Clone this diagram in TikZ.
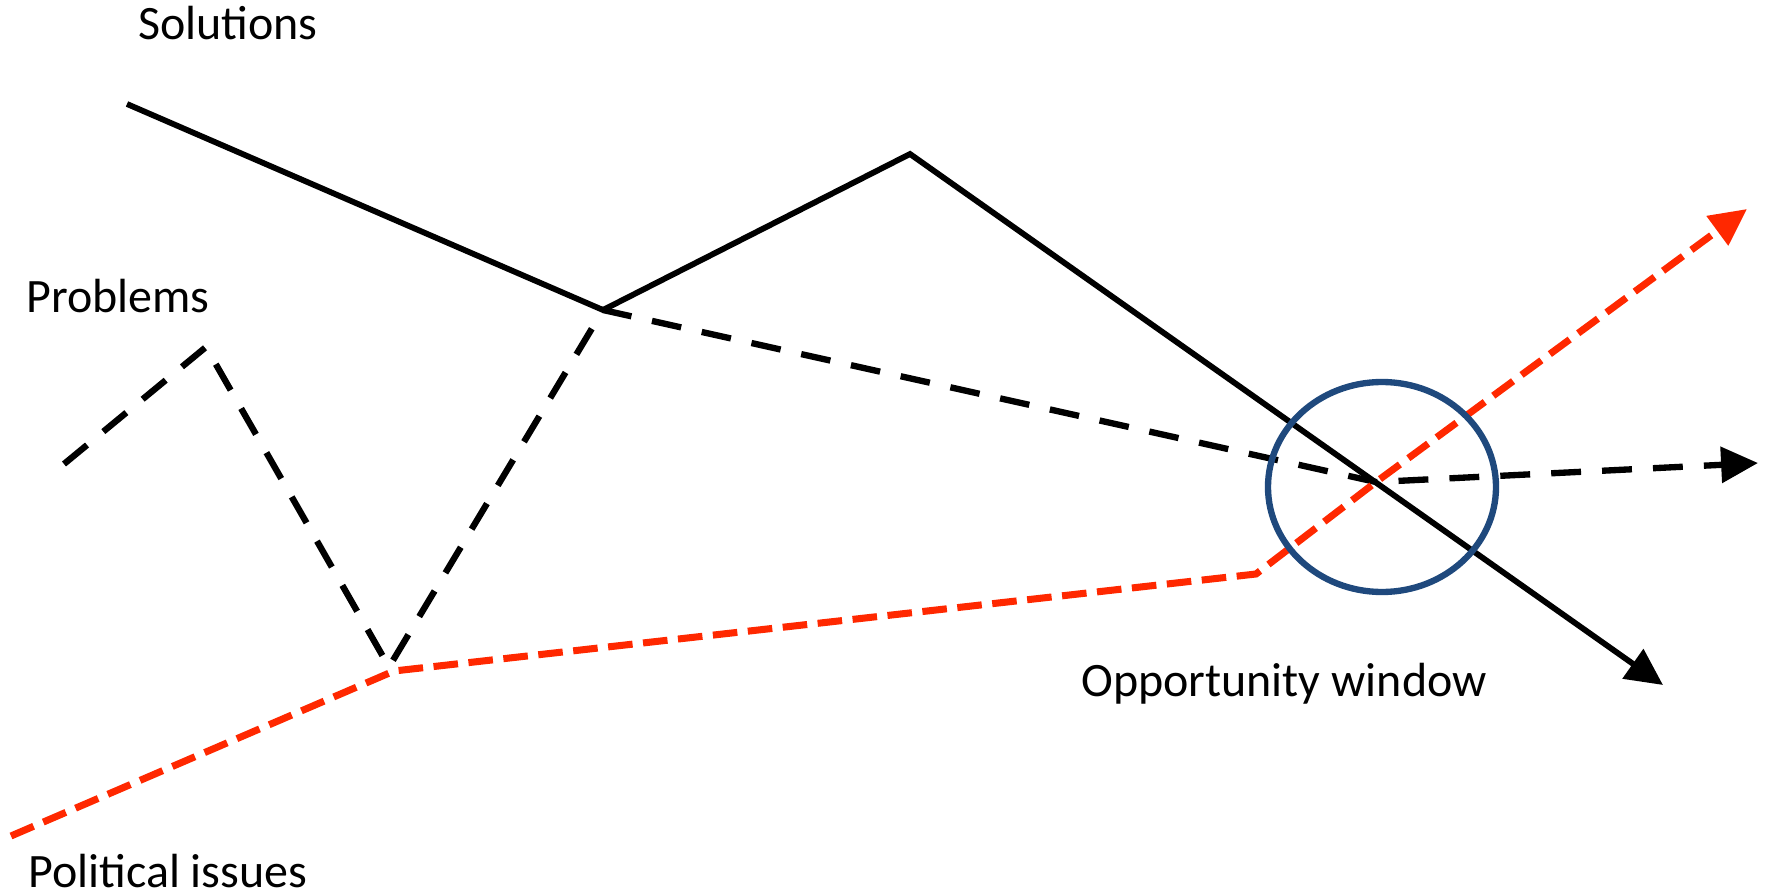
\documentclass[tikz,border=0pt]{standalone}
\usepackage{fontspec}
\setmainfont{Carlito}
\usepackage{xcolor}
\usetikzlibrary{arrows.meta}

\definecolor{issuered}{RGB}{255,40,0}
\definecolor{windowblue}{RGB}{31,73,125}

\tikzset{
  streamsol/.style={line width=3.3pt,-{Triangle[length=21pt,width=20pt]}},
  streamprob/.style={line width=3.6pt,dash pattern=on 17pt off 12pt,-{Triangle[length=21pt,width=20pt]}},
  streampol/.style={issuered,line width=4pt,dash pattern=on 14pt off 6pt,-{Triangle[length=21pt,width=20pt]}},
  label/.style={anchor=base west,inner sep=0pt,text depth=0pt,font=\fontsize{27.3}{32}\selectfont},
}

\begin{document}
\begin{tikzpicture}[x=0.02cm,y=-0.02cm,line join=miter]
  \useasboundingbox (0,0) rectangle (1766,895);
  % solutions stream
  \coordinate (S0) at (127,104);
  \coordinate (S1) at (603,310);
  \coordinate (S2) at (910,154);
  \coordinate (S3) at (1663,685);
  % problems stream
  \coordinate (P0) at (64,464);
  \coordinate (P1) at (206,347);
  \coordinate (P2) at (389,667);
  \coordinate (P3) at (1376,482);
  \coordinate (P4) at (1758,463);
  % political stream
  \coordinate (R0) at (11,836);
  \coordinate (R1) at (394,671);
  \coordinate (R2) at (1256,574);
  \coordinate (R3) at (1747,209);
  \draw[streamsol] (S0) -- (S1) -- (S2) -- (S3);
  \draw[streamprob] (P0) -- (P1) -- (P2) -- (S1) -- (P3) -- (P4);
  \draw[streampol] (R0) -- (R1) -- (R2) -- (P3) -- (R3);
  \draw[windowblue,line width=3.6pt] (1382,487) ellipse (114 and 105);
  \node[label] (sol) at (138,40) {Solutions};
  \node[label] (prob) at (26,313) {Problems};
  \node[label] (pol) at (28,887) {Political issues};
  \node[label] (win) at (1081,696) {Opportunity window};
\end{tikzpicture}
\end{document}
